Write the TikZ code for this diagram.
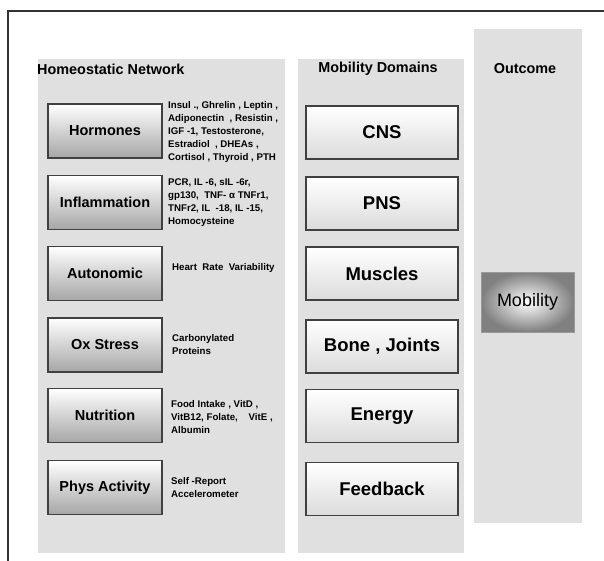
\documentclass[tikz,border=0pt]{standalone}
\usepackage{fontspec}
\setmainfont{Liberation Sans}

\begin{document}
\begin{tikzpicture}[x=1pt,y=-1pt,
   panel/.style={fill=black!12,draw=none},
   lbox/.style={rectangle,draw=black!75,line width=1.3pt,minimum width=114pt,
    minimum height=54pt,top color=white,bottom color=black!35,
    font=\fontsize{14.5}{16}\selectfont\bfseries},
   mbox/.style={rectangle,draw=black!75,line width=1.3pt,minimum width=152pt,
    minimum height=53pt,top color=white,bottom color=black!14,
    font=\fontsize{18.5}{20}\selectfont\bfseries},
   note/.style={anchor=west,align=left,inner sep=0pt,
    font=\fontsize{9.7}{13}\selectfont\bfseries},
   head/.style={inner sep=0pt,font=\fontsize{14.4}{16}\selectfont\bfseries}
    ]
  \useasboundingbox (0,0) rectangle (604,561);

  % -- frame and panels
  \draw[black!80,line width=1.2pt] (8,561) -- (8,11) -- (604,11);
  \fill[panel] (38,59) rectangle (285,553);
  \fill[panel] (298,59) rectangle (464,553);
  \fill[panel] (474,29) rectangle (582,523);

  % -- headers
  \node[head,anchor=west] at (37,69) (hhn) {Homeostatic Network};
  \node[head] at (378,69) (hmd) {Mobility Domains};
  \node[head] at (525,69) (hoc) {Outcome};

  % -- homeostatic network
  \node[lbox] at (105,131) (hor) {Hormones};
  \node[lbox] at (105,202.5) (inf) {Inflammation};
  \node[lbox] at (105,273.5) (aut) {Autonomic};
  \node[lbox] at (105,345) (oxs) {Ox Stress};
  \node[lbox] at (105,415.5) (nut) {Nutrition};
  \node[lbox] at (105,487.5) (phy) {Phys Activity};

  \node[note] at (168,132) (thor) {Insul ., Ghrelin , Leptin ,\\Adiponectin \ , Resistin ,\\IGF -1, Testosterone,\\Estradiol \ , DHEAs ,\\Cortisol , Thyroid , PTH};
  \node[note] at (168,203) (tinf) {PCR, IL -6, sIL -6r,\\gp130, \ TNF- α TNFr1,\\TNFr2, IL \ -18, IL -15,\\Homocysteine};
  \node[note] at (172,268) (taut) {Heart \ Rate \ Variability};
  \node[note] at (172,345) (toxs) {Carbonylated\\Proteins};
  \node[note] at (171,417) (tnut) {Food Intake , VitD ,\\VitB12, Folate, \ \ \ VitE ,\\Albumin};
  \node[note] at (171,487.5) (tphy) {Self -Report\\Accelerometer};

  % -- mobility domains
  \node[mbox] at (382,132.5) (cns) {CNS};
  \node[mbox] at (382,203.5) (pns) {PNS};
  \node[mbox] at (382,273.5) (mus) {Muscles};
  \node[mbox] at (382,346.5) (bon) {Bone , Joints};
  \node[mbox] at (382,416) (ene) {Energy};
  \node[mbox] at (382,489) (fee) {Feedback};

  % -- outcome
  \node[rectangle,draw=black!40,line width=1pt,minimum width=93pt,minimum height=60pt,
    shading=radial,inner color=white,outer color=black!50,
    font=\fontsize{18}{20}\selectfont] at (527.5,302) (mob) {Mobility};

\end{tikzpicture}
\end{document}
